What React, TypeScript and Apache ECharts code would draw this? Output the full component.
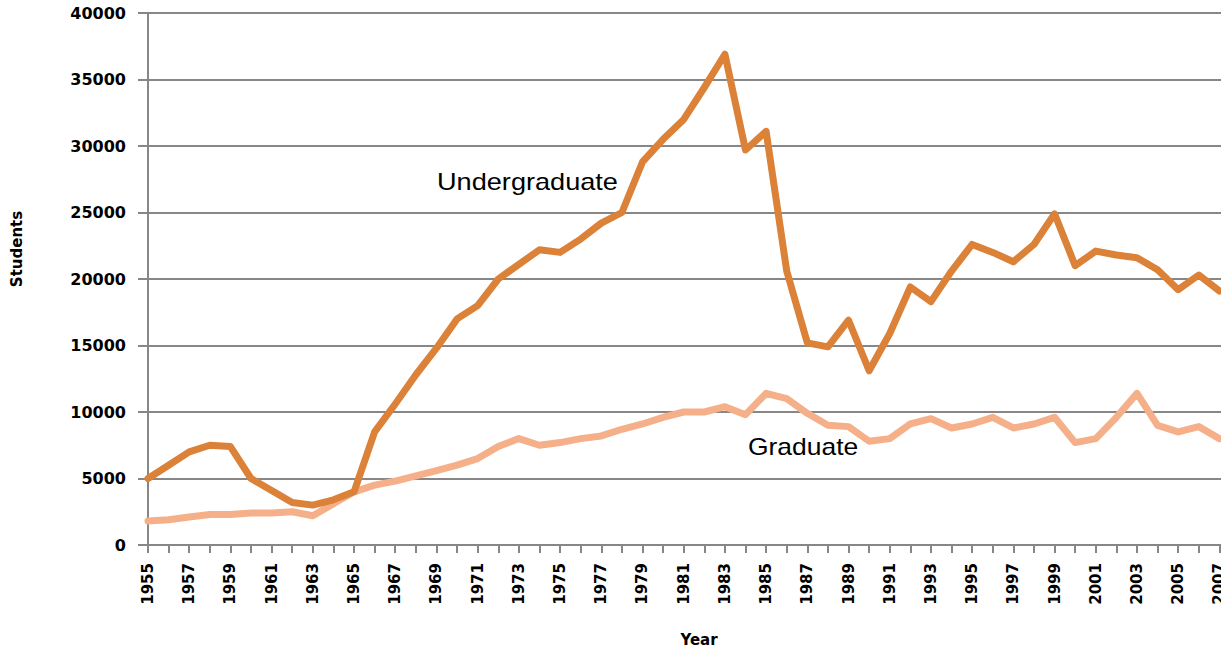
import React, { useEffect, useRef } from "react";
import * as echarts from "echarts";

const years: string[] = [];
for (let y = 1955; y <= 2008; y++) years.push(String(y));

const undergraduate = [
  5000, 6000, 7000, 7500, 7400, 5000, 4100, 3200, 3000, 3400,
  4000, 8500, 10600, 12800, 14800, 17000, 18000, 20000, 21100, 22200,
  22000, 23000, 24200, 25000, 28800, 30500, 32000, 34400, 36900, 29700,
  31100, 20600, 15200, 14900, 16900, 13100, 15900, 19400, 18300, 20600,
  22600, 22000, 21300, 22600, 24900, 21000, 22100, 21800, 21600, 20700,
  19200, 20300, 19100,
];

const graduate = [
  1800, 1900, 2100, 2300, 2300, 2400, 2400, 2500, 2200, 3100,
  4000, 4500, 4800, 5200, 5600, 6000, 6500, 7400, 8000, 7500,
  7700, 8000, 8200, 8700, 9100, 9600, 10000, 10000, 10400, 9800,
  11400, 11000, 9900, 9000, 8900, 7800, 8000, 9100, 9500, 8800,
  9100, 9600, 8800, 9100, 9600, 7700, 8000, 9600, 11400, 9000,
  8500, 8900, 8000,
];

const gridColor = "#878787";
const axisFont = "DejaVu Sans";

export default function App() {
  const ref = useRef<HTMLDivElement>(null);
  useEffect(() => {
    if (!ref.current) return;
    const chart = echarts.init(ref.current, null, { renderer: "svg" });
    chart.setOption({
      animation: false,
      backgroundColor: "#ffffff",
      grid: { left: 148, top: 13, bottom: 104, right: 20, containLabel: false },
      xAxis: {
        type: "category",
        data: years,
        boundaryGap: false,
        axisLine: { show: true, lineStyle: { color: gridColor, width: 2 } },
        axisTick: { show: true, interval: 0, length: 8, lineStyle: { color: gridColor, width: 2 } },
        axisLabel: {
          interval: 1,
          rotate: 90,
          margin: 18,
          fontFamily: axisFont,
          fontWeight: "bold",
          fontSize: 15,
          color: "#000",
        },
        splitLine: { show: false },
      },
      yAxis: {
        type: "value",
        min: 0,
        max: 40000,
        interval: 5000,
        axisLine: { show: true, lineStyle: { color: gridColor, width: 2 } },
        axisTick: { show: true, length: 10, lineStyle: { color: gridColor, width: 2 } },
        axisLabel: {
          margin: 22,
          fontFamily: axisFont,
          fontWeight: "bold",
          fontSize: 16,
          color: "#000",
          formatter: (v: number) => String(v),
        },
        splitLine: { show: true, lineStyle: { color: gridColor, width: 2 } },
      },
      series: [
        {
          name: "Graduate",
          type: "line",
          data: graduate,
          showSymbol: false,
          symbol: "none",
          lineStyle: { color: "#F5B08A", width: 7, cap: "round", join: "round" },
          z: 2,
        },
        {
          name: "Undergraduate",
          type: "line",
          data: undergraduate,
          showSymbol: false,
          symbol: "none",
          lineStyle: { color: "#DB8138", width: 7, cap: "round", join: "round" },
          z: 3,
        },
      ],
      graphic: [
        {
          type: "text",
          x: 17,
          y: 249,
          rotation: Math.PI / 2,
          style: {
            text: "Students",
            fontFamily: axisFont,
            fontWeight: "bold",
            fontSize: 15,
            fill: "#000",
            align: "center",
            verticalAlign: "middle",
          },
        },
        {
          type: "text",
          x: 699,
          y: 640,
          style: {
            text: "Year",
            fontFamily: axisFont,
            fontWeight: "bold",
            fontSize: 15,
            fill: "#000",
            align: "center",
            verticalAlign: "middle",
          },
        },
        {
          type: "text",
          x: 437,
          y: 170,
          scaleX: 1.18,
          style: {
            text: "Undergraduate",
            fontFamily: "Liberation Sans",
            fontSize: 23,
            fill: "#000",
            align: "left",
            verticalAlign: "top",
          },
        },
        {
          type: "text",
          x: 748,
          y: 436,
          scaleX: 1.15,
          style: {
            text: "Graduate",
            fontFamily: "Liberation Sans",
            fontSize: 23,
            fill: "#000",
            align: "left",
            verticalAlign: "top",
          },
        },
      ],
    });
    return () => chart.dispose();
  }, []);
  return (
    <div
      style={{
        position: "fixed",
        left: 0,
        top: 0,
        width: 1221,
        height: 649,
        overflow: "hidden",
        background: "#fff",
      }}
    >
      <div ref={ref} style={{ width: 1260, height: 649 }} />
    </div>
  );
}
